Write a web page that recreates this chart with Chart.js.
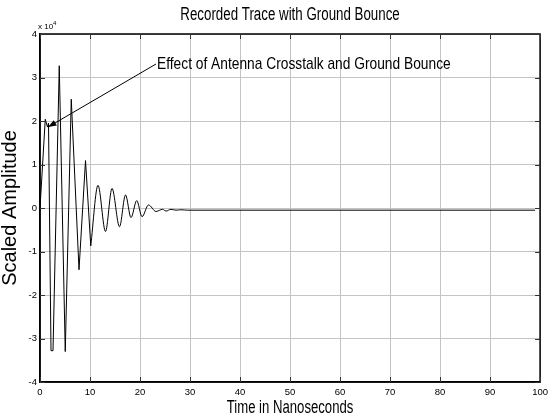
<!DOCTYPE html>
<html>
<head>
<meta charset="utf-8">
<script src="https://cdn.jsdelivr.net/npm/chart.js@4.4.1/dist/chart.umd.min.js"></script>
<style>
  html, body { margin: 0; padding: 0; background: #fff; }
  #wrap { width: 553px; height: 419px; }
</style>
</head>
<body>
<div id="wrap"><canvas id="myChart" width="553" height="419"></canvas></div>
<script>
// trace (amplitude in units of 1e4)
var spikeTime = [0, 1.05, 1.5, 1.7, 2.2, 2.6, 3.85, 5.05, 6.25, 7.8, 9.1, 10.15];
var spikeAmp  = [0, 2.04, 1.86, 1.95, -3.28, -3.28, 3.27, -3.3, 2.5, -1.42, 1.09, -0.87];

var ringTime = [10.15, 11.6, 13.1, 14.4, 15.9, 17.1, 18.2, 19.35, 20.4, 21.7, 23.2, 24.5, 25.2, 26.2, 27.2, 28.2, 29.5, 99];
var ringAmp  = [-0.87, 0.52, -0.54, 0.45, -0.43, 0.3, -0.22, 0.17, -0.2, 0.07, -0.08, -0.03, -0.07, -0.03, -0.05, -0.04, -0.05, -0.05];

var xTicks = [0, 10, 20, 30, 40, 50, 60, 70, 80, 90, 100];
var yTicks = [-4, -3, -2, -1, 0, 1, 2, 3, 4];

var chartTitle = 'Recorded Trace with Ground Bounce';
var xTitle = 'Time in Nanoseconds';
var yTitle = 'Scaled Amplitude';
var noteText = 'Effect of Antenna Crosstalk and Ground Bounce';
var noteTail = [23.2, 3.31];   // where the arrow leaves the text (data units)
var noteTip  = [1.6, 1.86];    // where the arrow points

function toXY(xs, ys) {
  return xs.map(function (x, i) { return { x: x, y: ys[i] }; });
}

function squashText(ctx, text, x, y, size, sx, align) {
  ctx.save();
  ctx.translate(x, y);
  ctx.scale(sx, 1);
  ctx.font = size + 'px "Liberation Sans", Arial, sans-serif';
  ctx.textAlign = align;
  ctx.textBaseline = 'middle';
  ctx.fillStyle = '#000';
  ctx.fillText(text, 0, 0);
  ctx.restore();
}

var matlabBits = {
  id: 'matlabBits',
  afterDatasetsDraw: function (chart) {
    var ctx = chart.ctx, a = chart.chartArea;
    var xs = chart.scales.x, ys = chart.scales.y;
    ctx.save();
    // box
    ctx.strokeStyle = '#000';
    ctx.lineWidth = 1.5;
    ctx.strokeRect(a.left, a.top, a.right - a.left, a.bottom - a.top);
    // inward ticks
    ctx.strokeStyle = '#333';
    ctx.lineWidth = 1;
    ctx.beginPath();
    xTicks.forEach(function (v) {
      var px = Math.round(xs.getPixelForValue(v)) + 0.5;
      ctx.moveTo(px, a.bottom); ctx.lineTo(px, a.bottom - 5);
      ctx.moveTo(px, a.top); ctx.lineTo(px, a.top + 5);
    });
    yTicks.forEach(function (v) {
      var py = Math.round(ys.getPixelForValue(v)) + 0.5;
      ctx.moveTo(a.left, py); ctx.lineTo(a.left + 5, py);
      ctx.moveTo(a.right, py); ctx.lineTo(a.right - 5, py);
    });
    ctx.stroke();

    // arrow
    var tx = xs.getPixelForValue(noteTail[0]), ty = ys.getPixelForValue(noteTail[1]);
    var hx = xs.getPixelForValue(noteTip[0]), hy = ys.getPixelForValue(noteTip[1]);
    var ang = Math.atan2(hy - ty, hx - tx);
    ctx.strokeStyle = '#000';
    ctx.beginPath();
    ctx.moveTo(tx, ty); ctx.lineTo(hx, hy);
    ctx.stroke();
    ctx.fillStyle = '#000';
    ctx.beginPath();
    ctx.moveTo(hx, hy);
    ctx.lineTo(hx - 9 * Math.cos(ang - 0.35), hy - 9 * Math.sin(ang - 0.35));
    ctx.lineTo(hx - 9 * Math.cos(ang + 0.35), hy - 9 * Math.sin(ang + 0.35));
    ctx.closePath();
    ctx.fill();
    ctx.restore();

    // texts
    squashText(ctx, noteText, tx + 1, ty, 17, 0.81, 'left');
    var cx = (a.left + a.right) / 2;
    squashText(ctx, chartTitle, cx, 15, 18, 0.74, 'center');
    squashText(ctx, xTitle, cx, 408, 18, 0.73, 'center');
    // exponent label
    ctx.save();
    ctx.fillStyle = '#000';
    ctx.textBaseline = 'middle';
    ctx.font = '8px "Liberation Sans Narrow", "Liberation Sans", Arial, sans-serif';
    ctx.fillText('x 10', a.left - 2, a.top - 7);
    ctx.font = '6px "Liberation Sans Narrow", "Liberation Sans", Arial, sans-serif';
    ctx.fillText('4', a.left + 13, a.top - 11);
    ctx.restore();
  }
};

var tickFont = { family: '"Liberation Sans Narrow", "Liberation Sans", Arial, sans-serif', size: 9.5 };

new Chart(document.getElementById('myChart'), {
  type: 'line',
  data: {
    datasets: [
      {
        data: toXY(spikeTime, spikeAmp),
        borderColor: '#000', borderWidth: 1, pointRadius: 0, tension: 0
      },
      {
        data: toXY(ringTime, ringAmp),
        borderColor: '#000', borderWidth: 1, pointRadius: 0,
        cubicInterpolationMode: 'monotone'
      }
    ]
  },
  options: {
    responsive: false,
    animation: false,
    layout: { padding: { top: 34, right: 8, left: 0, bottom: 0 } },
    plugins: { legend: { display: false }, tooltip: { enabled: false }, title: { display: false } },
    scales: {
      x: {
        type: 'linear', min: 0, max: 100,
        afterFit: function (s) { s.height = 37; },
        afterBuildTicks: function (s) { s.ticks = xTicks.map(function (v) { return { value: v }; }); },
        grid: { color: '#c4c4c4', lineWidth: 1, drawTicks: false },
        border: { display: true, color: '#000', width: 1.5 },
        ticks: { font: tickFont, color: '#000', padding: 5, maxRotation: 0 }
      },
      y: {
        min: -4, max: 4,
        afterFit: function (s) { s.width = 40; },
        afterBuildTicks: function (s) { s.ticks = yTicks.map(function (v) { return { value: v }; }); },
        grid: { color: '#c4c4c4', lineWidth: 1, drawTicks: false },
        border: { display: true, color: '#000', width: 1.5 },
        ticks: { font: tickFont, color: '#000', padding: 3 },
        title: {
          display: true, text: yTitle, color: '#000',
          font: { family: '"Liberation Sans", Arial, sans-serif', size: 20, lineHeight: 1 },
          padding: 0
        }
      }
    }
  },
  plugins: [matlabBits]
});
</script>
</body>
</html>
